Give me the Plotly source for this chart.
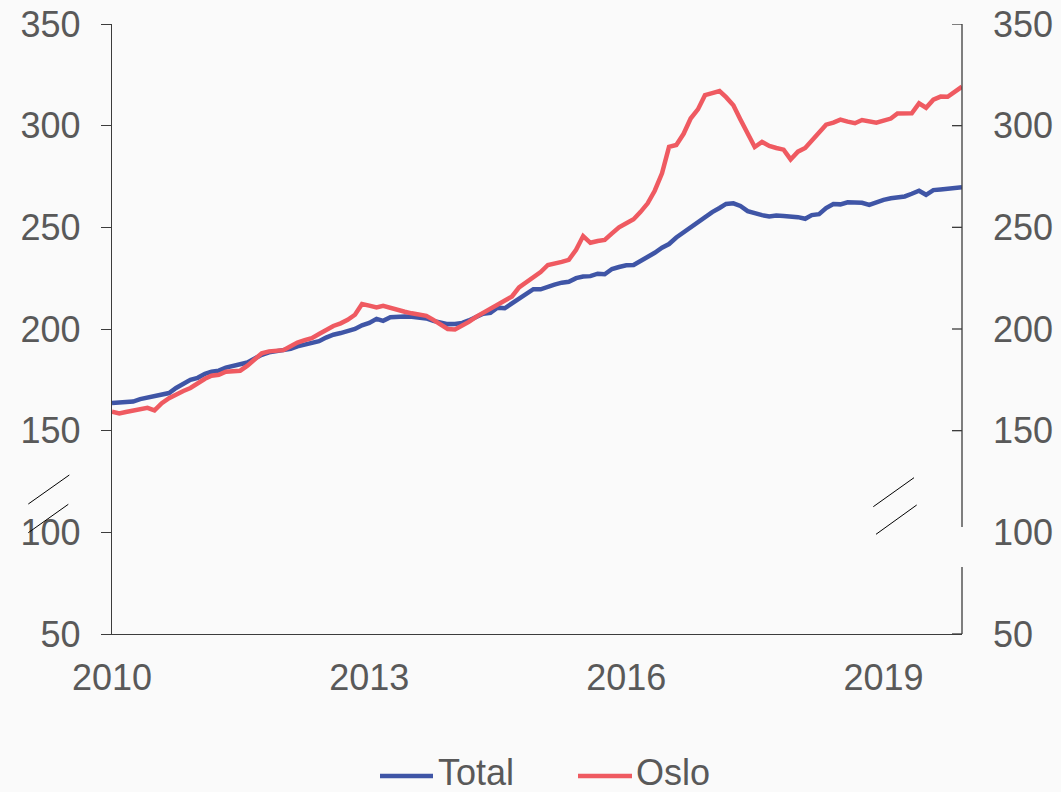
import pandas as pd
import plotly.graph_objects as go

dates = pd.date_range("2010-01-01", periods=120, freq="MS")

total = [163.6, 163.8, 164.1, 164.3, 165.5, 166.3, 167.0, 167.7, 168.5, 171.0, 173.2, 175.0,
         176.0, 178.0, 179.0, 179.5, 181.0, 182.0, 183.0, 183.5, 185.5, 187.3, 188.5, 189.2,
         189.6, 190.2, 191.5, 192.5, 193.3, 194.0, 195.8, 197.2, 198.0, 198.8, 200.0, 201.8,
         203.0, 205.0, 204.0, 205.8, 206.2, 206.1, 206.0, 205.6, 205.2, 204.0, 203.0, 202.4,
         202.5, 203.0, 204.2, 205.8, 207.5, 208.0, 210.5, 210.2, 212.5, 215.0, 217.2, 219.6,
         219.5, 221.0, 221.8, 222.8, 223.2, 225.0, 225.8, 226.0, 227.2, 226.9, 229.5, 230.5,
         231.3, 231.5, 233.5, 235.0, 237.5, 240.0, 241.8, 245.0, 247.5, 250.5, 253.0, 255.2,
         257.5, 259.5, 261.5, 261.8, 260.5, 258.0, 256.8, 256.0, 255.3, 255.8, 255.6, 255.4,
         255.0, 254.2, 256.0, 256.5, 259.5, 261.5, 261.3, 262.3, 262.0, 262.1, 261.0, 262.5,
         263.5, 264.3, 264.8, 265.2, 266.5, 268.0, 266.0, 268.3, 268.6, 268.8, 269.2, 269.7]

oslo = [159.3, 158.5, 159.2, 159.7, 160.5, 161.2, 160.0, 163.5, 166.0, 168.0, 169.5, 171.0,
        173.5, 175.5, 177.0, 177.5, 179.0, 179.3, 179.5, 182.0, 185.0, 188.0, 189.0, 189.3,
        189.6, 191.5, 193.3, 194.5, 195.5, 197.5, 199.5, 201.5, 202.8, 204.5, 207.0, 212.3,
        211.5, 210.6, 211.4, 210.3, 209.5, 208.5, 207.7, 207.0, 206.5, 204.5, 202.0, 200.0,
        199.8, 201.5, 203.5, 206.0, 208.0, 210.0, 212.0, 213.5, 216.0, 220.5, 223.0, 225.5,
        228.0, 231.5, 232.0, 233.0, 234.0, 239.0, 245.7, 242.4, 243.3, 243.8, 247.0, 250.0,
        252.0, 254.0, 257.5, 261.8, 268.0, 276.6, 289.6, 290.5, 296.0, 303.5, 308.0, 315.0,
        316.0, 317.0, 314.0, 310.0, 303.0, 296.5, 289.5, 292.0, 290.0, 289.0, 288.2, 283.4,
        287.2, 289.0, 292.5, 297.0, 300.5, 301.5, 303.0, 302.0, 301.2, 302.8, 302.0, 301.5,
        302.5, 303.5, 306.0, 306.3, 306.1, 311.0, 308.8, 312.8, 314.3, 314.2, 316.5, 319.2]

series_names = ["Total", "Oslo"]
series_colors = ["#3F55A6", "#EF5A61"]

y_ticks = [50, 100, 150, 200, 250, 300, 350]
x_ticks = ["2010-01-01", "2013-01-01", "2016-01-01", "2019-01-01"]
x_labels = ["2010", "2013", "2016", "2019"]

TXT = "#595959"
AX = "#3c3c3c"
FONT = "Liberation Sans, Arial, sans-serif"
FS = 36

W, H = 1061, 792
L, R, T, B = 112, 99, 24, 158
pw, ph = W - L - R, H - T - B

def px(xp):
    return (xp - L) / pw

def py(yp):
    return (H - B - yp) / ph

fig = go.Figure()
for name, vals, col in zip(series_names, [total, oslo], series_colors):
    fig.add_trace(go.Scatter(x=dates, y=vals, name=name, mode="lines",
                             line=dict(color=col, width=4.5), showlegend=False))
fig.add_trace(go.Scatter(x=dates, y=total, yaxis="y2", mode="lines", showlegend=False,
                         hoverinfo="skip", line=dict(width=0), opacity=0))

shapes = []
# right axis line with a gap around 100
for y0, y1 in [(50, 82.9), (102.6, 350)]:
    shapes.append(dict(type="line", xref="paper", yref="y", x0=1, x1=1, y0=y0, y1=y1,
                       line=dict(color=AX, width=1.3)))
# right inward ticks (none at 100)
for v in y_ticks:
    if v == 100:
        continue
    shapes.append(dict(type="line", xref="paper", yref="y", x0=1 - 10 / pw, x1=1, y0=v, y1=v,
                       line=dict(color=AX, width=1.3)))
# break marks
for (xa, ya, xb, yb) in [(28.3, 504, 69.3, 475), (28.3, 532.7, 68.3, 504.3),
                         (873.3, 506.7, 914, 477.7), (876, 534.3, 916.7, 505)]:
    shapes.append(dict(type="line", xref="paper", yref="paper",
                       x0=px(xa), y0=py(ya), x1=px(xb), y1=py(yb),
                       line=dict(color="#000000", width=1)))

# legend (drawn manually to match sample length)
annotations = []
leg_items = [(380, 433, 437), (578, 632, 635)]
for (x0, x1, xt), name, col in zip(leg_items, series_names, series_colors):
    shapes.append(dict(type="line", xref="paper", yref="paper",
                       x0=px(x0), x1=px(x1), y0=py(776), y1=py(776),
                       line=dict(color=col, width=4.5)))
    annotations.append(dict(text=name, xref="paper", yref="paper", x=px(xt), y=py(772),
                            xanchor="left", yanchor="middle", showarrow=False,
                            height=36, valign="middle", borderpad=0,
                            font=dict(family=FONT, size=FS, color=TXT)))

fig.update_layout(
    width=W, height=H,
    margin=dict(l=L, r=R, t=T, b=B, pad=0, autoexpand=False),
    paper_bgcolor="#FAFAFA", plot_bgcolor="#FAFAFA",
    font=dict(family=FONT, size=FS, color=TXT),
    showlegend=False,
    xaxis=dict(range=["2010-01-01", "2019-12-01"], tickvals=x_ticks, ticktext=x_labels,
               showgrid=False, zeroline=False, showline=True, linecolor=AX, linewidth=1.3,
               ticks="", ticklabelstandoff=12, automargin=False,
               tickfont=dict(size=FS, color=TXT)),
    yaxis=dict(range=[50, 350], tickvals=y_ticks, showgrid=False, zeroline=False,
               showline=True, linecolor=AX, linewidth=1.3, ticks="outside", ticklen=10,
               tickcolor=AX, tickwidth=1.3, ticklabelstandoff=13, automargin=False,
               tickfont=dict(size=FS, color=TXT)),
    yaxis2=dict(range=[50, 350], tickvals=y_ticks, overlaying="y", side="right",
                showgrid=False, zeroline=False, showline=False, ticks="",
                ticklabelstandoff=30, automargin=False,
                tickfont=dict(size=FS, color=TXT)),
    shapes=shapes,
    annotations=annotations,
)

fig.write_html("out.html", config={"displayModeBar": False},
               post_script="document.body.style.margin='0';document.body.style.background='#FAFAFA';")
